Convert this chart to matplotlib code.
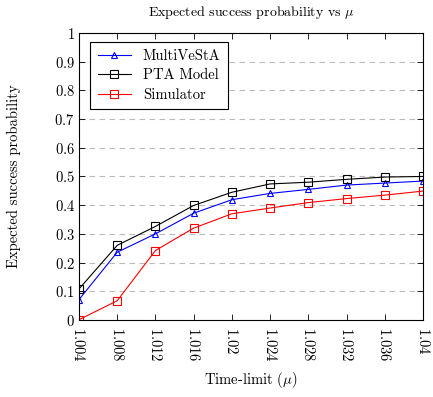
import numpy as np
import matplotlib
matplotlib.use("Agg")
import matplotlib.pyplot as plt

plt.rcParams['font.family'] = 'serif'
plt.rcParams['font.serif'] = ['cmr10']
plt.rcParams['mathtext.fontset'] = 'cm'
plt.rcParams['axes.formatter.use_mathtext'] = True
plt.rcParams['font.size'] = 10.5

time_limit = [1.004, 1.008, 1.012, 1.016, 1.02, 1.024, 1.028, 1.032, 1.036, 1.04]
tick_labels = ['1.004', '1.008', '1.012', '1.016', '1.02', '1.024', '1.028', '1.032', '1.036', '1.04']
multivesta = [0.071, 0.236, 0.300, 0.372, 0.419, 0.441, 0.455, 0.470, 0.477, 0.484]
pta_model = [0.108, 0.260, 0.326, 0.399, 0.445, 0.474, 0.480, 0.490, 0.498, 0.500]
simulator = [0.001, 0.067, 0.242, 0.320, 0.370, 0.390, 0.409, 0.423, 0.435, 0.449]

fig = plt.figure(figsize=(4.33, 3.97), dpi=100)
ax = fig.add_axes([0.1824, 0.194, 0.7946, 0.723])

ax.plot(time_limit, multivesta, '-', color='blue', lw=0.8, marker='^',
        mfc='none', mec='blue', ms=5, mew=0.8, label='MultiVeStA')
ax.plot(time_limit, pta_model, '-', color='black', lw=0.8, marker='s',
        mfc='none', mec='black', ms=5.5, mew=0.8, label='PTA Model')
ax.plot(time_limit, simulator, '-', color='red', lw=0.8, marker='s',
        mfc='none', mec='red', ms=5.5, mew=0.8, label='Simulator')

ax.set_xlim(1.004, 1.04)
ax.set_ylim(0, 1)
ax.set_xticks(time_limit)
ax.set_xticklabels(['$' + t + '$' for t in tick_labels], rotation=-90)
ax.set_yticks(np.arange(0, 1.01, 0.1))
ax.set_yticklabels(['$' + t + '$' for t in ['0', '0.1', '0.2', '0.3', '0.4', '0.5',
                                            '0.6', '0.7', '0.8', '0.9', '1']])
ax.tick_params(direction='in', top=True, right=True, length=4, width=0.6, pad=3)
ax.tick_params(axis='x', pad=5)
ax.yaxis.grid(True, linestyle=(0, (5, 4)), color='#bbbbbb', lw=0.8)
ax.set_axisbelow(True)
for s in ax.spines.values():
    s.set_linewidth(0.8)

ax.set_title(r'Expected success probability vs $\mu$', fontsize=10, pad=12)
ax.set_xlabel(r'Time-limit ($\mu$)', labelpad=6)
ax.set_ylabel('Expected success probability', labelpad=24)

leg = ax.legend(loc='upper left', bbox_to_anchor=(0.02, 0.985), fancybox=False,
                edgecolor='black', framealpha=1, handlelength=2.3,
                borderaxespad=0.3, labelspacing=0.4, borderpad=0.5)
leg.get_frame().set_linewidth(0.8)

fig.savefig('out.png', dpi=100)
